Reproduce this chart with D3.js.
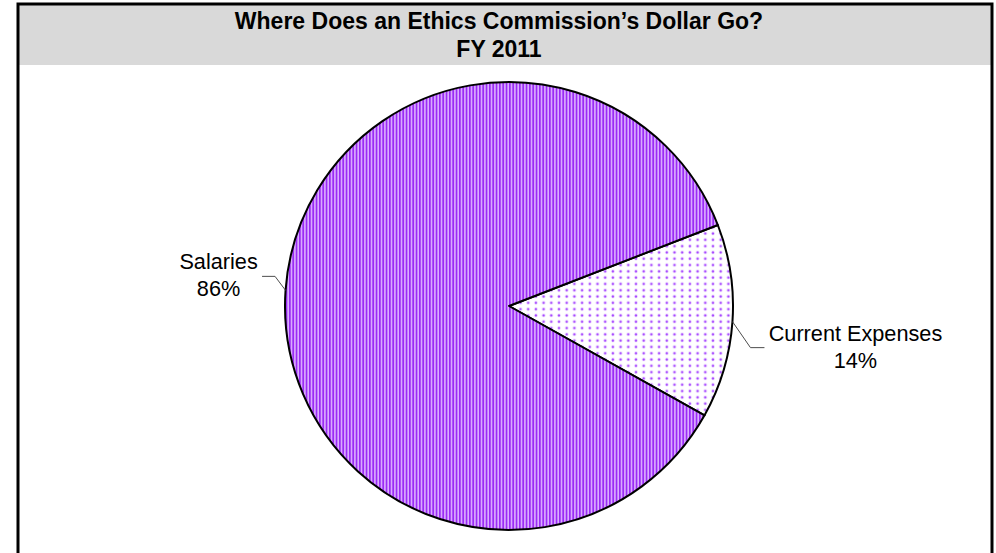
<!DOCTYPE html>
<html>
<head>
<meta charset="utf-8">
<script src="https://cdn.jsdelivr.net/npm/d3@7/dist/d3.min.js"></script>
<style>
  html, body { margin: 0; padding: 0; background: #ffffff; }
  svg { display: block; }
</style>
</head>
<body>
<script>
// Budget shares for the fiscal year
const categories = ["Current Expenses", "Salaries"];
const shares = [14, 86];
const shareLabels = ["14%", "86%"];
const titleLines = ["Where Does an Ethics Commission\u2019s Dollar Go?", "FY 2011"];

const W = 996, H = 553;
const svg = d3.select("body").append("svg").attr("width", W).attr("height", H);

// Fill patterns: narrow vertical stripes and a dotted grid
const defs = svg.append("defs");
const stripes = defs.append("pattern")
  .attr("id", "stripes").attr("patternUnits", "userSpaceOnUse")
  .attr("width", 10 / 3).attr("height", 10);
stripes.append("rect").attr("width", 10 / 3).attr("height", 10).attr("fill", "#dcb0ff");
stripes.append("rect").attr("width", 1.75).attr("height", 10).attr("fill", "#9b2cf5");

const dots = defs.append("pattern")
  .attr("id", "dots").attr("patternUnits", "userSpaceOnUse")
  .attr("width", 7.7).attr("height", 6.3);
dots.append("rect").attr("width", 7.7).attr("height", 6.3).attr("fill", "#ffffff");
dots.append("circle").attr("cx", 3.8).attr("cy", 3.1).attr("r", 1.9).attr("fill", "#efdcff");
dots.append("circle").attr("cx", 3.8).attr("cy", 3.1).attr("r", 1.1).attr("fill", "#a546ff");

const fills = ["url(#dots)", "url(#stripes)"];

// Frame and title band
svg.append("rect").attr("x", 19).attr("y", 5).attr("width", 972).attr("height", 60).attr("fill", "#d9d9d9");
svg.append("path")
  .attr("d", "M18,553 L18,4 L992,4 L992,553")
  .attr("fill", "none").attr("stroke", "#000").attr("stroke-width", 3);

const title = svg.append("text")
  .attr("text-anchor", "middle")
  .attr("font-family", "Liberation Sans, Arial, sans-serif")
  .attr("font-weight", "bold").attr("font-size", 23).attr("fill", "#000");
title.selectAll("tspan").data(titleLines).join("tspan")
  .attr("x", 499).attr("y", (d, i) => 29 + i * 28).text(d => d);

// Pie
const cx = 509, cy = 306, R = 224;
const start = 68.8 * Math.PI / 180;
const pie = d3.pie().sort(null).startAngle(start).endAngle(start + 2 * Math.PI);
const arcs = pie(shares);
const arc = d3.arc().innerRadius(0).outerRadius(R);

const g = svg.append("g").attr("transform", `translate(${cx},${cy})`);
g.selectAll("path.slice").data(arcs).join("path")
  .attr("class", "slice")
  .attr("d", arc)
  .attr("fill", (d, i) => fills[i])
  .attr("stroke", "#000").attr("stroke-width", 2).attr("stroke-linejoin", "round");

// Leader lines and labels
const layout = [
  { elbow: [18, 26], run: 14, anchor: "middle", tx: 91, ty: -7 },
  { elbow: [-10.5, -14], run: -13, anchor: "middle", tx: -43.5, ty: -7 }
];
const labelFont = "Liberation Sans, Arial, sans-serif";

arcs.forEach((d, i) => {
  const mid = (d.startAngle + d.endAngle) / 2;
  const ex = Math.sin(mid) * R, ey = -Math.cos(mid) * R;
  const L = layout[i];
  const bx = ex + L.elbow[0], by = ey + L.elbow[1];
  const tx = bx + L.run, ty = by;
  g.append("polyline")
    .attr("points", `${ex},${ey} ${bx},${by} ${tx},${ty}`)
    .attr("fill", "none").attr("stroke", "#4d4d4d").attr("stroke-width", 1);
  const lx = tx + L.tx;
  const t = g.append("text")
    .attr("text-anchor", L.anchor)
    .attr("font-family", labelFont).attr("font-size", 21.7).attr("fill", "#000");
  t.append("tspan").attr("x", lx).attr("y", ty + L.ty).text(categories[i]);
  t.append("tspan").attr("x", lx).attr("y", ty + L.ty + 27).text(shareLabels[i]);
});
</script>
</body>
</html>
